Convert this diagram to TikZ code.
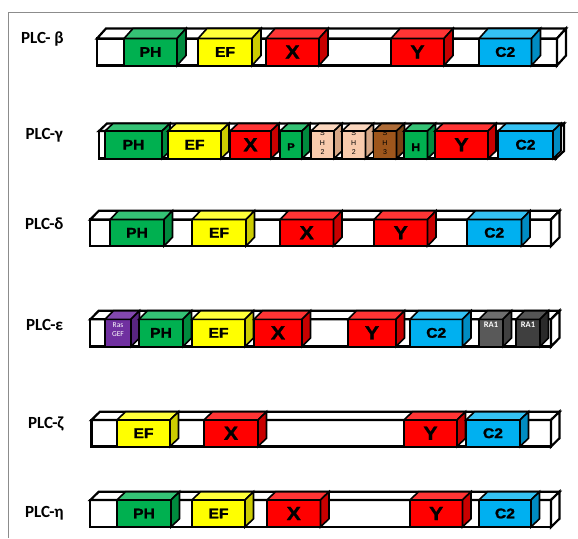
\documentclass[tikz,border=0pt]{standalone}
\usepackage{fontspec}
\setmainfont{Liberation Sans}[BoldFeatures={FakeBold=1.6,FakeStretch=1.12}]
\newfontfamily\rowfont{Carlito}
\usetikzlibrary{calc}

% face colours: front, top (lighter), side (darker)
\definecolor{grn}{HTML}{00B050}\definecolor{grn-top}{HTML}{35C275}\definecolor{grn-side}{HTML}{008A3E}
\definecolor{yel}{HTML}{FFFF00}\definecolor{yel-top}{HTML}{FFFF3A}\definecolor{yel-side}{HTML}{CCCC00}
\definecolor{red}{HTML}{FF0000}\definecolor{red-top}{HTML}{FF3535}\definecolor{red-side}{HTML}{C80000}
\definecolor{blu}{HTML}{00B0F0}\definecolor{blu-top}{HTML}{35C2F3}\definecolor{blu-side}{HTML}{008CC2}
\definecolor{pch}{HTML}{F8CBAD}\definecolor{pch-top}{HTML}{FAD6BE}\definecolor{pch-side}{HTML}{D6A786}
\definecolor{brn}{HTML}{9E561C}\definecolor{brn-top}{HTML}{AE6C38}\definecolor{brn-side}{HTML}{7A4214}
\definecolor{pur}{HTML}{7030A0}\definecolor{pur-top}{HTML}{8248AE}\definecolor{pur-side}{HTML}{582580}
\definecolor{gra}{HTML}{595959}\definecolor{gra-top}{HTML}{6E6E6E}\definecolor{gra-side}{HTML}{404040}
\definecolor{grb}{HTML}{3F3F3F}\definecolor{grb-top}{HTML}{555555}\definecolor{grb-side}{HTML}{2A2A2A}
\definecolor{framegray}{HTML}{8C8C8C}

% current row: front top, front bottom, depth in x, depth in y
\newcommand\plrow[4]{\def\pltop{#1}\def\plbot{#2}\def\pldx{#3}\def\pldy{#4}}

% white backbone of a protein: front face plus top and right faces
\newcommand\plbar[3]{%
  \node[barbox, minimum width={(#3-#2)*1pt}, minimum height={(\plbot-\pltop)*1pt}]
    (#1) at ({(#2+#3)/2},{(\pltop+\plbot)/2}) {};
  \draw[barline, fill=white] (#1.north west) -- ($(#1.north west)+(\pldx,-\pldy)$)
    -- ($(#1.north east)+(\pldx,-\pldy)$) -- (#1.north east) -- cycle;
  \draw[barline, fill=white] (#1.north east) -- ($(#1.north east)+(\pldx,-\pldy)$)
    -- ($(#1.south east)+(\pldx,-\pldy)$) -- (#1.south east) -- cycle;
}

% one domain block: [label offset]{name}{x1}{x2}{colour}{label style}{label}
\newcommand\pldom[7][0]{%
  \node[dombox, fill=#5, minimum width={(#4-#3)*1pt}, minimum height={(\plbot-\pltop)*1pt}]
    (#2) at ({(#3+#4)/2},{(\pltop+\plbot)/2}) {};
  \draw[domline, fill=#5-top] (#2.north west) -- ($(#2.north west)+(\pldx,-\pldy)$)
    -- ($(#2.north east)+(\pldx,-\pldy)$) -- (#2.north east) -- cycle;
  \draw[domline, fill=#5-side] (#2.north east) -- ($(#2.north east)+(\pldx,-\pldy)$)
    -- ($(#2.south east)+(\pldx,-\pldy)$) -- (#2.south east) -- cycle;
  \node[#6] (#2-t) at ($(#2.center)+(0,#1)$) {#7};
}

\tikzset{
  barbox/.style={draw=black, line width=2.2pt, fill=white, inner sep=0pt, outer sep=0pt},
  barline/.style={draw=black, line width=2.2pt, line join=miter},
  dombox/.style={draw=black, line width=1.6pt, inner sep=0pt, outer sep=0pt},
  domline/.style={draw=black, line width=1.6pt, line join=miter},
  rowlbl/.style={anchor=west, inner sep=0pt, font=\rowfont\bfseries\fontsize{17}{17}\selectfont},
  lblmid/.style={inner sep=0pt, font=\bfseries\fontsize{14}{14}\selectfont},
  lblbig/.style={inner sep=0pt, font=\bfseries\fontsize{19}{19}\selectfont},
  lblp/.style={inner sep=0pt, font=\bfseries\fontsize{10}{10}\selectfont},
  lblh/.style={inner sep=0pt, font=\bfseries\fontsize{11}{11}\selectfont},
  lblsh/.style={inner sep=0pt, align=center, font=\fontsize{7}{9.2}\selectfont},
  lblras/.style={inner sep=0pt, align=center, text=white, font=\rowfont\fontsize{7.5}{9.3}\selectfont},
  lblra/.style={inner sep=0pt, text=white, font=\rowfont\bfseries\fontsize{8.5}{8.5}\selectfont},
}

\begin{document}
\begin{tikzpicture}[x=1pt, y=-1pt]
\useasboundingbox (0,0) rectangle (578,538);

% panel frame
\draw[framegray, line width=1pt] (8,538) -- (8,12.7) -- (578,12.7);

% PLC-beta
\node[rowlbl] (lbeta) at (21,39) {PLC- β};
\plrow{38.5}{65.5}{9}{10}
\plbar{bB}{97}{557}
\pldom{bB-PH}{124}{177}{grn}{lblmid}{PH}
\pldom{bB-EF}{198}{252}{yel}{lblmid}{EF}
\pldom{bB-X}{266}{319}{red}{lblbig}{X}
\pldom{bB-Y}{391}{444}{red}{lblbig}{Y}
\pldom{bB-C2}{479}{531.5}{blu}{lblmid}{C2}

% PLC-gamma
\node[rowlbl] (lgamma) at (25.5,135) {PLC-γ};
\plrow{131}{158.5}{8}{7.5}
\plbar{bG}{99}{556}
\pldom{bG-PH}{105}{162}{grn}{lblmid}{PH}
\pldom{bG-EF}{168}{221}{yel}{lblmid}{EF}
\pldom{bG-X}{230}{271}{red}{lblbig}{X}
\pldom[2]{bG-P}{280}{302}{grn}{lblp}{P}
\pldom[-2]{bG-SHa}{311}{334}{pch}{lblsh}{S\\H\\2}
\pldom[-2]{bG-SHb}{342}{365.5}{pch}{lblsh}{S\\H\\2}
\pldom[-2]{bG-SHc}{373.5}{396.5}{brn}{lblsh}{S\\H\\3}
\pldom[2.5]{bG-H}{404}{427.5}{grn}{lblh}{H}
\pldom{bG-Y}{435}{488}{red}{lblbig}{Y}
\pldom{bG-C2}{498}{553}{blu}{lblmid}{C2}

% PLC-delta
\node[rowlbl] (ldelta) at (25,224) {PLC-δ};
\plrow{219.5}{246}{8.5}{8.7}
\plbar{bD}{90.3}{551}
\pldom{bD-PH}{110}{164}{grn}{lblmid}{PH}
\pldom{bD-EF}{192}{246}{yel}{lblmid}{EF}
\pldom{bD-X}{280}{333.5}{red}{lblbig}{X}
\pldom{bD-Y}{374}{427.5}{red}{lblbig}{Y}
\pldom{bD-C2}{467}{521.5}{blu}{lblmid}{C2}

% PLC-epsilon
\node[rowlbl] (lepsilon) at (26,325) {PLC-ε};
\plrow{319.3}{346.5}{8.5}{8.6}
\plbar{bE}{90.3}{551}
\pldom[-3]{bE-Ras}{105}{131}{pur}{lblras}{Ras\\GEF}
\pldom{bE-PH}{139}{183}{grn}{lblmid}{PH}
\pldom{bE-EF}{192}{245}{yel}{lblmid}{EF}
\pldom{bE-X}{254}{302}{red}{lblbig}{X}
\pldom{bE-Y}{348}{396}{red}{lblbig}{Y}
\pldom{bE-C2}{410}{462.5}{blu}{lblmid}{C2}
\pldom[-8]{bE-RAa}{479}{503}{gra}{lblra}{RA1}
\pldom[-8]{bE-RAb}{516}{540}{grb}{lblra}{RA1}

% PLC-zeta
\node[rowlbl] (lzeta) at (28,424) {PLC-ζ};
\plrow{420}{446.5}{8.5}{8.3}
\plbar{bZ}{91.4}{551}
\pldom{bZ-EF}{117}{170}{yel}{lblmid}{EF}
\pldom{bZ-X}{204}{258}{red}{lblbig}{X}
\pldom{bZ-Y}{404}{457}{red}{lblbig}{Y}
\pldom{bZ-C2}{466}{520}{blu}{lblmid}{C2}

% PLC-eta
\node[rowlbl] (leta) at (25,513) {PLC-η};
\plrow{500}{527}{8.5}{8.3}
\plbar{bH}{90.3}{551}
\pldom{bH-PH}{117}{171}{grn}{lblmid}{PH}
\pldom{bH-EF}{192}{245}{yel}{lblmid}{EF}
\pldom{bH-X}{267}{320.5}{red}{lblbig}{X}
\pldom{bH-Y}{410}{462.5}{red}{lblbig}{Y}
\pldom{bH-C2}{479}{531}{blu}{lblmid}{C2}
\end{tikzpicture}
\end{document}
